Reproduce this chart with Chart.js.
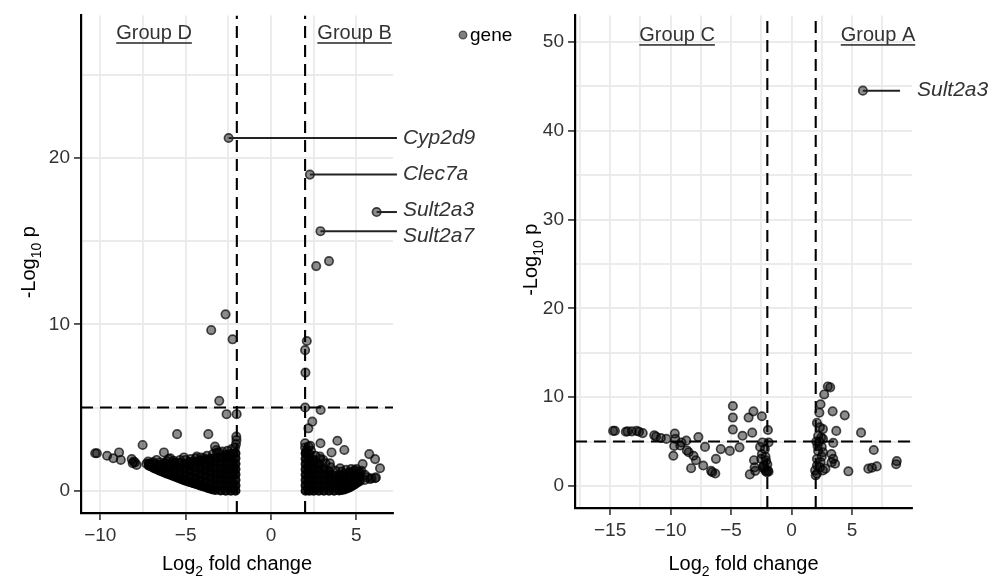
<!DOCTYPE html>
<html><head><meta charset="utf-8">
<script src="https://cdn.jsdelivr.net/npm/chart.js@4.4.1/dist/chart.umd.min.js"></script>
<style>
html,body{margin:0;padding:0;background:#fff;}
#wrap{position:relative;width:992px;height:586px;overflow:hidden;background:#fff;}
canvas{position:absolute;top:0;}
#c1{left:0;} #c2{left:500px;}
</style></head><body>
<div id="wrap"><canvas id="c1" width="540" height="586"></canvas><canvas id="c2" width="492" height="586"></canvas></div>
<script>
// ---------------- DATA ----------------
const fcCut = 2;          // |log2 fold change| threshold
const pCut = 5;           // -log10 p threshold

// Left panel (Group D vs Group B)
const leftXRange = [-11.13, 7.15];
const leftYRange = [-1.34, 28.57];
const leftXTicks = [-10, -7.5, -5, -2.5, 0, 2.5, 5];
const leftYTicks = [0, 5, 10, 15, 20, 25];
const leftPoints = [
 [-10.3,2.25],[-10.2,2.25],[-9.6,2.1],[-9.24,1.95],[-8.9,2.3],[-8.8,1.85],[-8.16,1.9],[-8.05,1.75],[-7.97,1.7],[-7.87,1.55],[-8.1,1.65],[-7.52,2.75],[-7.2,1.75],[-6.27,2.3],[-5.5,3.4],[-5.33,1.85],[-4.35,2.05],[-3.67,3.4],[-3.5,9.65],[-3.28,2.65],[-3.03,5.4],[-3.05,2.3],[-2.66,10.6],[-2.6,4.6],[-2.25,9.1],[-2.01,4.6],[-2.03,3.25],[-2.02,3.05],[-2.48,21.2],
 [-7.3,1.62],[-6.9,1.72],[-6.5,1.7],[-6.1,1.78],[-5.7,1.8],[-5.0,1.85],[-4.7,1.9],[-4.1,2.0],[-3.75,2.1],[-3.4,2.2],[-3.15,2.3],[-2.85,2.35],[-2.55,2.4],[-2.3,2.5],[-2.1,2.6],[-2.05,2.8],[-4.4,1.95],[-3.9,1.95],[-6.0,1.9],[-5.1,2.0],[-3.2,2.45],[-6.7,1.85],[-5.9,1.95],
 [2.28,19.0],[6.19,16.75],[2.9,15.6],[2.65,13.5],[3.4,13.8],[2.1,9.0],[2.0,8.45],[2.02,7.1],[2.0,5.0],[2.91,4.85],[2.42,4.15],[2.19,3.75],[2.0,2.85],[2.3,2.7],[2.9,2.85],[3.89,3.0],[3.55,2.3],[4.3,2.45],[5.76,2.2],[6.1,1.9],[6.39,1.35],[5.37,1.6],[4.05,1.35],[4.14,1.15],[3.45,1.65],[3.06,1.85],[2.87,2.05],[5.5,0.65],[5.8,0.7],[6.1,0.75],[5.9,0.75],[6.15,0.8],
 [2.0,2.6],[2.1,2.45],[2.35,2.4],[2.6,2.1],[2.9,1.9],[3.2,1.65],[3.5,1.4],[3.8,1.2],[4.4,1.25],[4.7,1.3],[5.0,1.3],[5.3,1.2],[5.5,0.95],[5.65,0.8],[2.2,2.65],[2.05,2.3]
];
// densely overlapping genes (columns: x, list of y)
const leftCoreCols = [
 [-7.15,[1.5,1.62]],
 [-7.0,[1.45]],
 [-6.85,[1.35,1.6]],
 [-6.7,[1.3]],
 [-6.55,[1.22,1.55]],
 [-6.4,[1.16]],
 [-6.25,[1.1,1.42,1.65]],
 [-6.1,[1.03]],
 [-5.95,[0.98,1.3,1.6]],
 [-5.8,[0.92]],
 [-5.65,[0.86,1.18,1.5,1.68]],
 [-5.5,[0.8]],
 [-5.35,[0.74,1.06,1.38,1.68]],
 [-5.2,[0.68]],
 [-5.05,[0.62,0.95,1.28,1.6]],
 [-4.9,[0.57]],
 [-4.75,[0.52,0.85,1.18,1.5,1.72]],
 [-4.6,[0.47]],
 [-4.45,[0.42,0.75,1.08,1.4,1.72]],
 [-4.3,[0.37]],
 [-4.15,[0.32,0.65,0.98,1.3,1.62,1.82]],
 [-4.0,[0.27]],
 [-3.85,[0.22,0.55,0.88,1.2,1.52,1.85]],
 [-3.7,[0.17]],
 [-3.55,[0.12,0.45,0.78,1.1,1.42,1.75,1.92]],
 [-3.4,[0.08]],
 [-3.25,[0.05,0.38,0.7,1.02,1.35,1.68,1.98]],
 [-2.95,[0.02,0.34,0.66,1.0,1.32,1.65,2.0]],
 [-2.65,[0.0,0.32,0.65,0.98,1.3,1.62,1.95,2.15]],
 [-2.35,[0.0,0.32,0.65,0.98,1.3,1.62,1.95,2.2]],
 [-2.08,[0.0,0.32,0.65,0.98,1.3,1.62,1.95,2.25]],
 [2.03,[0.0,0.32,0.64,0.96,1.28,1.6,1.92,2.24]],
 [2.25,[0.0,0.32,0.64,0.96,1.28,1.6,1.92,2.2]],
 [2.5,[0.0,0.32,0.64,0.96,1.28,1.6,1.85]],
 [2.8,[0.0,0.32,0.64,0.96,1.28,1.6]],
 [3.1,[0.0,0.32,0.64,0.96,1.3]],
 [3.4,[0.0,0.3,0.6,0.9,1.15]],
 [3.7,[0.0,0.3,0.6,0.9]],
 [4.0,[0.02,0.32,0.62,0.92]],
 [4.15,[0.05]],
 [4.3,[0.08,0.38,0.68,0.98]],
 [4.45,[0.14]],
 [4.6,[0.2,0.5,0.8,1.1]],
 [4.75,[0.29]],
 [4.9,[0.38,0.68,0.98,1.22]],
 [5.05,[0.48]],
 [5.2,[0.58,0.85,1.1]]
];
const leftGroups = [['Group D', -6.85, 27.5], ['Group B', 4.9, 27.5]];
const leftGenes = ['Cyp2d9', 'Clec7a', 'Sult2a3', 'Sult2a7'];
const leftGeneX = [-2.48, 2.28, 6.19, 2.9];
const leftGeneY = [21.2, 19.0, 16.75, 15.6];
const leftGeneTextY = [21.2, 19.05, 16.85, 15.3];
const leftLineEndX = 7.38;
const leftTextX = 7.73;

// Right panel (Group C vs Group A)
const rightXRange = [-17.9, 9.96];
const rightYRange = [-2.48, 52.97];
const rightXTicks = [-17.5, -15, -12.5, -10, -7.5, -5, -2.5, 0, 2.5, 5, 7.5];
const rightYTicks = [0, 5, 10, 15, 20, 25, 30, 35, 40, 45, 50];
const rightPoints = [
 [-14.75,6.2],[-14.6,6.2],[-13.7,6.1],[-13.55,6.15],[-13.2,6.15],[-12.8,6.2],[-12.6,6.1],[-12.3,5.95],[-11.35,5.7],[-11.2,5.55],[-10.8,5.4],[-10.35,5.3],[-9.65,5.9],[-9.6,5.3],[-9.7,4.5],[-9.77,3.4],[-9.2,4.55],[-9.1,4.9],[-8.7,5.1],[-8.65,4.0],[-8.5,3.8],[-8.1,3.4],[-7.9,2.9],[-8.3,2.0],[-7.7,5.5],[-7.3,2.3],[-7.15,4.4],[-6.65,1.7],[-6.55,1.55],[-6.3,1.4],[-6.25,3.05],[-5.85,4.15],[-5.1,3.95],[-4.85,9.0],[-4.85,7.7],[-4.85,6.35],[-4.3,4.35],[-4.05,5.65],[-3.55,7.7],[-3.15,8.4],[-3.25,6.0],[-3.45,1.3],[-3.1,2.9],[-3.05,2.1],[-3.0,1.7],[-2.45,7.85],[-1.95,6.3],[-2.4,4.9],[-2.2,4.15],[-2.45,3.6],[-2.5,3.05],[-2.1,2.85],[-2.3,2.3],[-1.95,1.75],[-2.05,1.55],[-2.25,1.95],[-2.15,3.3],[-1.9,4.9],[-2.35,2.1],[-1.9,1.6],[-2.6,4.4],[-2.0,2.45],[-2.15,1.7],
 [3.0,11.2],[3.2,11.1],[2.7,10.3],[2.4,9.2],[2.3,8.25],[3.4,8.4],[4.4,7.95],[2.1,7.1],[2.35,6.6],[2.6,6.4],[3.7,6.2],[5.75,6.0],[2.2,5.65],[2.45,5.45],[2.6,5.3],[2.05,5.0],[2.3,5.0],[3.45,4.85],[6.8,4.05],[2.2,3.95],[2.6,3.8],[2.1,3.05],[3.3,3.6],[3.45,3.05],[3.3,2.65],[3.6,2.5],[2.1,2.3],[2.35,2.1],[2.8,1.95],[1.95,1.75],[2.1,1.4],[2.6,1.75],[4.7,1.65],[6.35,1.95],[6.65,2.05],[7.05,2.2],[8.7,2.8],[8.65,2.45],[2.5,4.4],[2.15,4.5],[2.0,1.2],[2.4,2.7],[2.5,3.3],
 [5.9,44.5]
];
const rightGroups = [['Group C', -9.46, 50.75], ['Group A', 7.15, 50.75]];
const rightGenes = ['Sult2a3'];
const rightGeneX = [5.9];
const rightGeneY = [44.5];
const rightGeneTextY = [44.5];
const rightLineEndX = 8.97;
const rightTextX = 10.37;

// ---------------- RENDERING ----------------
const FONT = '"Liberation Sans", Arial, Helvetica, sans-serif';
const toXY = arr => arr.map(p => ({x: p[0], y: p[1]}));
const flattenCols = cols => { const out = []; cols.forEach(c => c[1].forEach(v => out.push({x: c[0], y: v}))); return out; };
const fmt = v => v < 0 ? '\u2212' + Math.abs(v) : String(v);

function drawRich(ctx, parts, cx, cy, size, rot) {
  ctx.save();
  ctx.translate(cx, cy);
  if (rot) ctx.rotate(-Math.PI / 2);
  const f = s => s + 'px ' + FONT;
  let total = 0;
  const ws = parts.map(p => { ctx.font = f(p[1] ? size * 0.7 : size); const w = ctx.measureText(p[0]).width; total += w; return w; });
  let xx = -total / 2;
  ctx.textAlign = 'left'; ctx.textBaseline = 'alphabetic'; ctx.fillStyle = '#000';
  parts.forEach((p, i) => {
    ctx.font = f(p[1] ? size * 0.7 : size);
    ctx.fillText(p[0], xx, size * 0.36 + (p[1] ? size * 0.28 : 0));
    xx += ws[i];
  });
  ctx.restore();
}

function makePlugin(cfg) {
  return {
    id: 'annot_' + cfg.id,
    afterDraw(chart) {
      const {ctx, chartArea: ca} = chart;
      const xs = chart.scales.x, ys = chart.scales.y;
      ctx.save();
      ctx.font = '20px ' + FONT;
      ctx.fillStyle = '#333';
      ctx.textAlign = 'center'; ctx.textBaseline = 'middle';
      cfg.groups.forEach(g => {
        const px = xs.getPixelForValue(g[1]), py = ys.getPixelForValue(g[2]);
        ctx.fillText(g[0], px, py);
        const w = ctx.measureText(g[0]).width;
        ctx.fillRect(px - w / 2, py + 9, w, 1.6);
      });
      ctx.font = 'italic 21px ' + FONT;
      ctx.fillStyle = '#333';
      ctx.textAlign = 'left';
      cfg.genes.forEach((name, i) => {
        ctx.fillText(name, xs.getPixelForValue(cfg.textX), ys.getPixelForValue(cfg.textY[i]));
      });
      ctx.restore();
      drawRich(ctx, [['Log', 0], ['2', 1], [' fold change', 0]], (ca.left + ca.right) / 2, 563, 20, false);
      drawRich(ctx, [['-Log', 0], ['10', 1], [' p', 0]], cfg.yTitleX, (ca.top + ca.bottom) / 2 - 2, 20, true);
      if (cfg.legend) {
        const lx = ca.right + 70, ly = 35;
        ctx.save();
        ctx.beginPath(); ctx.arc(lx, ly, 3.8, 0, Math.PI * 2);
        ctx.fillStyle = 'rgba(0,0,0,0.5)'; ctx.fill();
        ctx.lineWidth = 1.3; ctx.strokeStyle = 'rgba(0,0,0,0.6)'; ctx.stroke();
        ctx.font = '19px ' + FONT; ctx.fillStyle = '#000';
        ctx.textAlign = 'left'; ctx.textBaseline = 'middle';
        ctx.fillText('gene', lx + 7, ly + 1);
        ctx.restore();
      }
    }
  };
}

function axisCfg(range, ticks, majorStep, fitSize, isX) {
  return {
    type: 'linear', min: range[0], max: range[1],
    afterBuildTicks: s => { s.ticks = ticks.map(v => ({value: v})); },
    afterFit: s => { if (isX) s.height = fitSize; else s.width = fitSize; },
    ticks: {
      autoSkip: false, maxRotation: 0, padding: 4,
      font: {size: 19, family: FONT}, color: '#333',
      callback: v => (Math.abs(v / majorStep - Math.round(v / majorStep)) < 1e-9 ? fmt(v) : '')
    },
    grid: {
      color: '#ebebeb', lineWidth: 1.9, drawTicks: true, tickLength: 7, tickWidth: 1.6,
      tickColor: c => (c.tick && Math.abs(c.tick.value / majorStep - Math.round(c.tick.value / majorStep)) < 1e-9) ? '#333' : 'rgba(0,0,0,0)'
    },
    border: {display: true, color: '#000', width: 2.2}
  };
}

const dashStyle = {type: 'line', borderColor: '#000', borderWidth: 2.1, borderDash: [12, 7], pointRadius: 0, fill: false, tension: 0, order: 1};
const linkStyle = {type: 'line', borderColor: '#222', borderWidth: 2, pointRadius: 0, fill: false, tension: 0, clip: false, order: 2};
const ptStyle = {type: 'scatter', pointRadius: 4.2, pointBackgroundColor: 'rgba(0,0,0,0.45)', pointBorderColor: 'rgba(0,0,0,0.7)', pointBorderWidth: 1.7, order: 3};
const coreStyle = {type: 'scatter', pointRadius: 4.3, pointBackgroundColor: 'rgba(0,0,0,0.88)', pointBorderColor: 'rgba(0,0,0,0.9)', pointBorderWidth: 1.5, order: 4};

function buildChart(id, p) {
  const datasets = [
    Object.assign({}, dashStyle, {data: [{x: -fcCut, y: p.yr[0]}, {x: -fcCut, y: p.yr[1]}]}),
    Object.assign({}, dashStyle, {data: [{x: fcCut, y: p.yr[0]}, {x: fcCut, y: p.yr[1]}]}),
    Object.assign({}, dashStyle, {data: [{x: p.xr[0], y: pCut}, {x: p.xr[1], y: pCut}]})
  ];
  p.genes.forEach((g, i) => {
    datasets.push(Object.assign({}, linkStyle, {data: [{x: p.geneX[i], y: p.geneY[i]}, {x: p.lineEnd, y: p.geneY[i]}]}));
  });
  if (p.core) datasets.push(Object.assign({}, coreStyle, {label: 'gene', data: p.core}));
  datasets.push(Object.assign({}, ptStyle, {label: 'gene', data: p.points}));
  return new Chart(document.getElementById(id), {
    type: 'scatter',
    data: {datasets},
    options: {
      responsive: false, animation: false, devicePixelRatio: 1,
      layout: {padding: {left: 0, top: p.padTop, right: p.padRight, bottom: 0}},
      plugins: {legend: {display: false}, tooltip: {enabled: false}},
      scales: {
        x: axisCfg(p.xr, p.xt, 5, p.xH, true),
        y: axisCfg(p.yr, p.yt, 10, p.yW, false)
      }
    },
    plugins: [makePlugin({id, groups: p.groups, genes: p.genes, textX: p.textX, textY: p.textY, yTitleX: p.yTitleX, legend: p.legend})]
  });
}

buildChart('c1', {
  xr: leftXRange, yr: leftYRange, xt: leftXTicks, yt: leftYTicks,
  points: toXY(leftPoints), core: flattenCols(leftCoreCols),
  genes: leftGenes, geneX: leftGeneX, geneY: leftGeneY, textY: leftGeneTextY, lineEnd: leftLineEndX, textX: leftTextX,
  groups: leftGroups, padTop: 15, padRight: 147, xH: 73, yW: 81, yTitleX: 28, legend: true
});
buildChart('c2', {
  xr: rightXRange, yr: rightYRange, xt: rightXTicks, yt: rightYTicks,
  points: toXY(rightPoints), core: null,
  genes: rightGenes, geneX: rightGeneX, geneY: rightGeneY, textY: rightGeneTextY, lineEnd: rightLineEndX, textX: rightTextX,
  groups: rightGroups, padTop: 10, padRight: 80, xH: 78, yW: 75, yTitleX: 30, legend: false
});
</script>
</body></html>
